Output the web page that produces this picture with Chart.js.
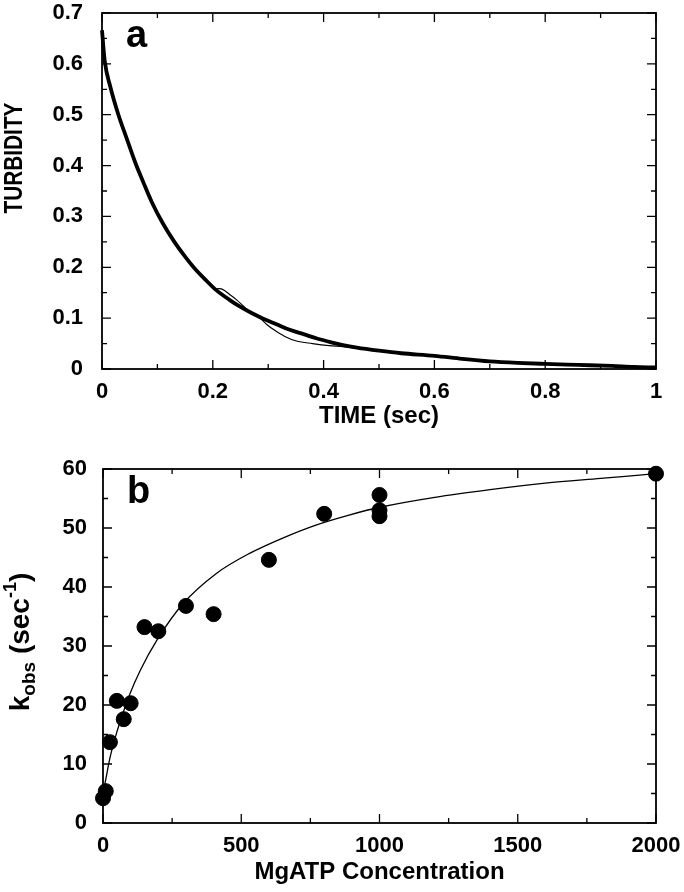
<!DOCTYPE html>
<html>
<head>
<meta charset="utf-8">
<script src="https://cdn.jsdelivr.net/npm/chart.js@4"></script>
<style>
    body { margin: 0; background: #fff; }
    .panel { position: relative; width: 684px; height: 446px; }
</style>
</head>
<body>
<div class="panel"><canvas id="chartA"></canvas></div>
<div class="panel"><canvas id="chartB"></canvas></div>
<script>
// panel a - turbidity trace (thick) and second trace (thin, only where it leaves the thick one)
let timeValues = [0, 0.005, 0.015, 0.029, 0.045, 0.06, 0.075, 0.09, 0.11, 0.13, 0.15, 0.171, 0.19, 0.204, 0.23, 0.25, 0.27, 0.291, 0.315, 0.339, 0.365, 0.388, 0.412, 0.435, 0.46, 0.5, 0.54, 0.6, 0.65, 0.7, 0.75, 0.8, 0.86, 0.92, 0.96, 1];
let turbidityValues = [0.666, 0.605, 0.555, 0.502, 0.452, 0.406, 0.366, 0.328, 0.286, 0.251, 0.221, 0.193, 0.172, 0.157, 0.136, 0.122, 0.11, 0.099, 0.088, 0.077, 0.068, 0.06, 0.053, 0.047, 0.042, 0.036, 0.031, 0.026, 0.02, 0.015, 0.012, 0.01, 0.008, 0.006, 0.004, 0.003];
let timeValuesThin = [0.204, 0.213, 0.231, 0.243, 0.255, 0.262, 0.275, 0.287, 0.298, 0.309, 0.33, 0.351, 0.38, 0.41, 0.435, 0.46];
let turbidityValuesThin = [0.157, 0.158, 0.146, 0.136, 0.124, 0.117, 0.108, 0.098, 0.087, 0.078, 0.064, 0.055, 0.05, 0.046, 0.044, 0.041];

let timeTicks = [0, 0.2, 0.4, 0.6, 0.8, 1];
let timeTickLabels = ['0', '0.2', '0.4', '0.6', '0.8', '1'];
let turbidityTicks = [0, 0.1, 0.2, 0.3, 0.4, 0.5, 0.6, 0.7];
let turbidityTickLabels = ['0', '0.1', '0.2', '0.3', '0.4', '0.5', '0.6', '0.7'];

// panel b - kobs vs MgATP
let mgatpValues = [0, 10, 25, 50, 75, 100, 150, 200, 300, 400, 600, 800, 1000, 1000, 1000, 2000];
let kobsValues = [4.2, 5.4, 13.7, 20.7, 17.6, 20.3, 33.2, 32.5, 36.8, 35.4, 44.6, 52.4, 55.6, 53.0, 52.0, 59.2];
let fitConcentrations = [0, 10, 25, 45, 60, 95, 135, 195, 290, 410, 530, 650, 770, 890, 1010, 1200, 1400, 1600, 1800, 2000];
let fitKobs = [5.0, 7.4, 11.0, 14.6, 16.9, 21.6, 25.9, 31.0, 37.2, 42.3, 45.7, 48.3, 50.5, 52.2, 53.6, 55.2, 56.5, 57.6, 58.4, 59.2];

let mgatpTicks = [0, 500, 1000, 1500, 2000];
let mgatpTickLabels = ['0', '500', '1000', '1500', '2000'];
let kobsTicks = [0, 10, 20, 30, 40, 50, 60];
let kobsTickLabels = ['0', '10', '20', '30', '40', '50', '60'];

const FONT = '"Liberation Sans", Arial, Helvetica, sans-serif';

function toPoints(xs, ys) {
    let points = [];
    for (let i = 0; i < xs.length; i++) {
        points.push({ x: xs[i], y: ys[i] });
    }
    return points;
}

function midpoints(values) {
    let mids = [];
    for (let i = 0; i < values.length - 1; i++) {
        mids.push((values[i] + values[i + 1]) / 2);
    }
    return mids;
}

function fixedTicks(values, labels) {
    return {
        afterBuildTicks: (scale) => { scale.ticks = values.map(v => ({ value: v })); },
        callback: (value) => labels[values.indexOf(value)]
    };
}

// fixed axis size, and no extra label padding pushing the plot area in
function fixHeight(h) {
    return (scale) => { scale.height = h; scale.paddingLeft = 0; scale.paddingRight = 0; };
}

function fixWidth(w) {
    return (scale) => { scale.width = w; scale.paddingTop = 0; scale.paddingBottom = 0; };
}

// box around the plot, inward ticks on all four sides, panel letter and y title
function makeFramePlugin(settings) {
    return {
        id: 'frame' + settings.letter,
        afterDatasetsDraw(chart) {
            const { ctx, chartArea: a, scales: { x, y } } = chart;
            ctx.save();
            ctx.strokeStyle = '#000';
            ctx.lineWidth = 1.8;
            ctx.strokeRect(a.left, a.top, a.right - a.left, a.bottom - a.top);

            ctx.beginPath();
            ctx.lineWidth = 1.3;
            let xTicks = [[settings.xMajor, 9], [midpoints(settings.xMajor), 5]];
            xTicks.forEach(([vals, len]) => vals.forEach(v => {
                let px = x.getPixelForValue(v);
                ctx.moveTo(px, a.bottom); ctx.lineTo(px, a.bottom - len);
                ctx.moveTo(px, a.top); ctx.lineTo(px, a.top + len);
            }));
            let yTicks = [[settings.yMajor, 9], [midpoints(settings.yMajor), 5]];
            yTicks.forEach(([vals, len]) => vals.forEach(v => {
                let py = y.getPixelForValue(v);
                ctx.moveTo(a.left, py); ctx.lineTo(a.left + len, py);
                ctx.moveTo(a.right, py); ctx.lineTo(a.right - len, py);
            }));
            ctx.stroke();

            ctx.fillStyle = '#000';
            ctx.font = 'bold 38px ' + FONT;
            ctx.textAlign = 'left';
            ctx.textBaseline = 'alphabetic';
            ctx.fillText(settings.letter, a.left + 24, a.top + 34);

            // rotated y axis title built from pieces (normal / sub / sup)
            ctx.translate(settings.titleX, settings.titleY);
            ctx.rotate(-Math.PI / 2);
            ctx.scale(settings.stretch, 1);
            let total = 0;
            settings.title.forEach(p => {
                ctx.font = 'bold ' + p.size + 'px ' + FONT;
                total += ctx.measureText(p.text).width;
            });
            let cx = -total / 2;
            ctx.textBaseline = 'middle';
            settings.title.forEach(p => {
                ctx.font = 'bold ' + p.size + 'px ' + FONT;
                ctx.fillText(p.text, cx, p.shift);
                cx += ctx.measureText(p.text).width;
            });
            ctx.restore();
        }
    };
}

function tickFont() {
    return { family: FONT, size: 22, weight: 'bold' };
}

function titleFont() {
    return { family: FONT, size: 24, weight: 'bold' };
}

function createTurbidityChart() {
    const ctx = document.getElementById('chartA');
    let xt = fixedTicks(timeTicks, timeTickLabels);
    let yt = fixedTicks(turbidityTicks, turbidityTickLabels);

    new Chart(ctx, {
        type: 'scatter',
        data: {
            datasets: [{
                data: toPoints(timeValues, turbidityValues),
                showLine: true,
                borderColor: '#000',
                borderWidth: 3.8,
                pointRadius: 0,
                cubicInterpolationMode: 'monotone',
                clip: false
            }, {
                data: toPoints(timeValuesThin, turbidityValuesThin),
                showLine: true,
                borderColor: '#000',
                borderWidth: 1.2,
                pointRadius: 0,
                cubicInterpolationMode: 'monotone'
            }]
        },
        options: {
            responsive: true,
            maintainAspectRatio: false,
            animation: false,
            layout: { padding: { top: 13, right: 28, left: 0, bottom: 0 } },
            plugins: {
                legend: { display: false },
                tooltip: { enabled: false }
            },
            scales: {
                x: {
                    type: 'linear',
                    min: 0,
                    max: 1,
                    afterBuildTicks: xt.afterBuildTicks,
                    afterFit: fixHeight(77),
                    grid: { display: false, drawTicks: false },
                    border: { display: false },
                    ticks: { callback: xt.callback, color: '#000', font: tickFont(), padding: 10, maxRotation: 0 },
                    title: { display: true, text: 'TIME (sec)', color: '#000', font: titleFont(), padding: { top: 0, bottom: 15 } }
                },
                y: {
                    min: 0,
                    max: 0.7,
                    afterBuildTicks: yt.afterBuildTicks,
                    afterFit: fixWidth(102),
                    grid: { display: false, drawTicks: false },
                    border: { display: false },
                    ticks: { callback: yt.callback, color: '#000', font: tickFont(), padding: 19 }
                }
            }
        },
        plugins: [makeFramePlugin({
            xMajor: timeTicks,
            yMajor: turbidityTicks,
            letter: 'a',
            titleX: 15,
            titleY: 158,
            stretch: 0.8,
            title: [{ text: 'TURBIDITY', size: 26, shift: 0 }]
        })]
    });
}

function createKobsChart() {
    const ctx = document.getElementById('chartB');
    let xt = fixedTicks(mgatpTicks, mgatpTickLabels);
    let yt = fixedTicks(kobsTicks, kobsTickLabels);

    new Chart(ctx, {
        type: 'scatter',
        data: {
            datasets: [{
                data: toPoints(mgatpValues, kobsValues),
                backgroundColor: '#000',
                borderColor: '#000',
                pointRadius: 7.5,
                clip: false
            }, {
                data: toPoints(fitConcentrations, fitKobs),
                showLine: true,
                borderColor: '#000',
                borderWidth: 1.3,
                pointRadius: 0,
                cubicInterpolationMode: 'monotone'
            }]
        },
        options: {
            responsive: true,
            maintainAspectRatio: false,
            animation: false,
            layout: { padding: { top: 23, right: 28, left: 0, bottom: 0 } },
            plugins: {
                legend: { display: false },
                tooltip: { enabled: false }
            },
            scales: {
                x: {
                    type: 'linear',
                    min: 0,
                    max: 2000,
                    afterBuildTicks: xt.afterBuildTicks,
                    afterFit: fixHeight(69),
                    grid: { display: false, drawTicks: false },
                    border: { display: false },
                    ticks: { callback: xt.callback, color: '#000', font: tickFont(), padding: 10, maxRotation: 0 },
                    title: { display: true, text: 'MgATP Concentration', color: '#000', font: titleFont(), padding: { top: 0, bottom: 5 } }
                },
                y: {
                    min: 0,
                    max: 60,
                    afterBuildTicks: yt.afterBuildTicks,
                    afterFit: fixWidth(103),
                    grid: { display: false, drawTicks: false },
                    border: { display: false },
                    ticks: { callback: yt.callback, color: '#000', font: tickFont(), padding: 16 }
                }
            }
        },
        plugins: [makeFramePlugin({
            xMajor: mgatpTicks,
            yMajor: kobsTicks,
            letter: 'b',
            titleX: 21,
            titleY: 196,
            stretch: 1,
            title: [
                { text: 'k', size: 28, shift: 0 },
                { text: 'obs', size: 19, shift: 9 },
                { text: ' (sec', size: 28, shift: 0 },
                { text: '-1', size: 18, shift: -10 },
                { text: ')', size: 28, shift: 0 }
            ]
        })]
    });
}

createTurbidityChart();
createKobsChart();
</script>
</body>
</html>
